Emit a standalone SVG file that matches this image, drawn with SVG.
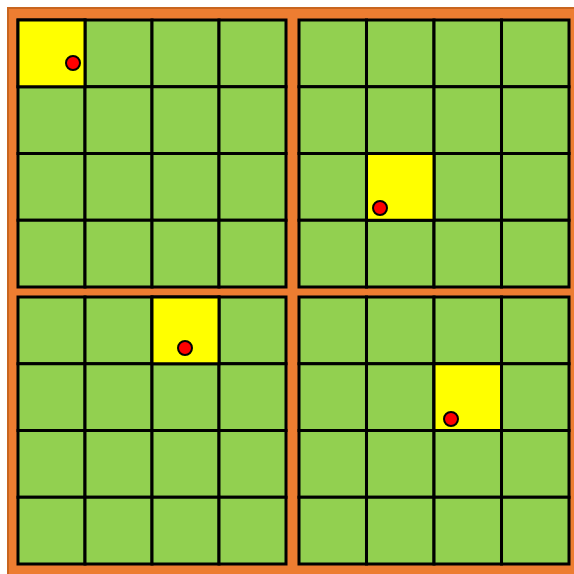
<svg xmlns="http://www.w3.org/2000/svg" width="574" height="574" viewBox="0 0 574 574">
<style>
.bg{fill:#ED7D31;stroke:#C8651F;stroke-width:2}
.c{fill:#92D050;stroke:#000;stroke-width:3}
.y{fill:#FFFF00;stroke:#000;stroke-width:3}
.d{fill:#FF0000;stroke:#000;stroke-width:2}
</style>
<defs>
<g id="row">
<rect class="c" x="0" y="0" width="67" height="66.75"/>
<rect class="c" x="67" y="0" width="67" height="66.75"/>
<rect class="c" x="134" y="0" width="67" height="66.75"/>
<rect class="c" x="201" y="0" width="67" height="66.75"/>
</g>
<g id="grid">
<use href="#row" y="0"/>
<use href="#row" y="66.75"/>
<use href="#row" y="133.5"/>
<use href="#row" y="200.25"/>
</g>
</defs>
<rect class="bg" x="8" y="8" width="580" height="580"/>
<g id="panel-tl">
<use href="#grid" x="18" y="20"/>
<rect class="y" x="18" y="20" width="67" height="66.75"/>
<circle class="d" cx="73" cy="63" r="7"/>
</g>
<g id="panel-tr" transform="translate(299,20) scale(1.0075,1)">
<use href="#grid"/>
<rect class="y" x="67" y="133.5" width="67" height="66.75"/>
</g>
<circle class="d" cx="380" cy="208" r="7"/>
<g id="panel-bl">
<use href="#grid" x="18" y="297"/>
<rect class="y" x="152" y="297" width="67" height="66.75"/>
<circle class="d" cx="185" cy="348" r="7"/>
</g>
<g id="panel-br" transform="translate(299,297) scale(1.0075,1)">
<use href="#grid"/>
<rect class="y" x="134" y="66.75" width="67" height="66.75"/>
</g>
<circle class="d" cx="451" cy="419" r="7"/>
<g id="connectors"/>
</svg>
